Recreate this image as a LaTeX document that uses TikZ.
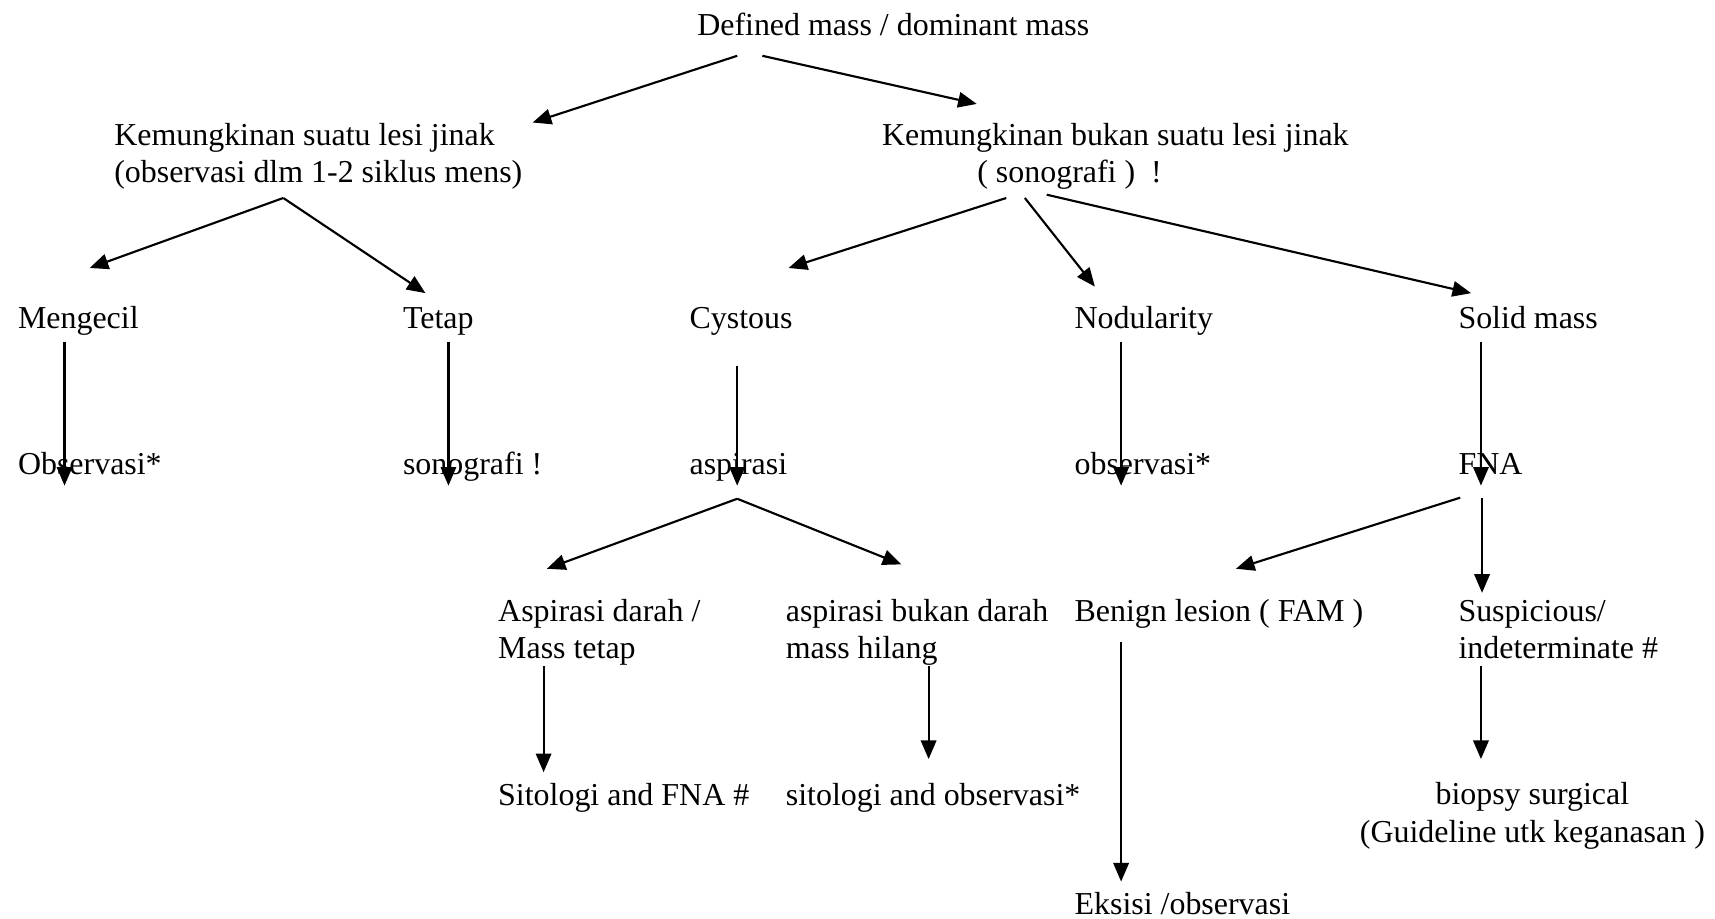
\documentclass[tikz,border=0pt]{standalone}
\usepackage{fontspec}
\setmainfont{Liberation Serif}
\usetikzlibrary{arrows.meta}
\tikzset{
	txt/.style={anchor=base west, inner sep=0pt, align=left, font=\fontsize{12}{14}\selectfont},
	arr/.style={line width=0.8pt, -{Triangle[length=7pt, width=5.8pt]}}
}

\begin{document}
\begin{tikzpicture}[x=0.411pt, y=-0.411pt]
		%%%%% START %%%%%
		\useasboundingbox (0, 0) rectangle (1568, 840);
		
		\node[txt] (defined) at (637, 32) {Defined mass / dominant mass};
		
		% two-line texts sit on their last line
		\node[txt] (jinak) at (104, 167) {Kemungkinan suatu lesi jinak\\(observasi dlm 1-2 siklus mens)};
		\node[txt] (bukan) at (806, 167) {Kemungkinan bukan suatu lesi jinak\\\hspace*{35.8pt}( sonografi ) \ !};
		
		\node[txt] (mengecil) at (16, 300) {Mengecil};
		\node[txt] (tetap) at (368, 300) {Tetap};
		\node[txt] (cystous) at (630, 300) {Cystous};
		\node[txt] (nodular) at (982, 300) {Nodularity};
		\node[txt] (solid) at (1333, 300) {Solid mass};
		
		\node[txt] (obsA) at (16, 434) {Observasi*};
		\node[txt] (sonoA) at (368, 434) {sonografi !};
		\node[txt] (aspirasi) at (630, 434) {aspirasi};
		\node[txt] (obsB) at (982, 434) {observasi*};
		\node[txt] (fna) at (1333, 434) {FNA};
		
		\node[txt] (darah) at (455, 602) {Aspirasi darah /\\Mass tetap};
		\node[txt] (bukandarah) at (718, 602) {aspirasi bukan darah\\mass hilang};
		\node[txt] (benign) at (982, 568) {Benign lesion ( FAM )};
		\node[txt] (suspect) at (1333, 602) {Suspicious/\\indeterminate \#};
		
		\node[txt] (sitoA) at (455, 736) {Sitologi and FNA \#};
		\node[txt] (sitoB) at (718, 736) {sitologi and observasi*};
		\node[txt, anchor=base, align=center] (biopsy) at (1401, 770) {biopsy surgical\\(Guideline utk keganasan )};
		
		\node[txt] (eksisi) at (982, 836) {Eksisi /observasi};
		
		% connectors: name/start/end
		\foreach \n/\xa/\ya/\xb/\yb in {
				defL/674/51/487/112, defR/697/51/893/95,
				jinakL/259/181/82/245, jinakR/259/181/389/268,
				bukanL/920/181/721/245, bukanM/937/181/1001/262, bukanR/957/178/1345/268,
				mengecilD/59/313/59/444, tetapD/410/313/410/444,
				cystousD/674/335/674/444, nodularD/1025/313/1025/444,
				solidD/1354/313/1354/444,
				aspirasiL/674/456/500/520, aspirasiR/674/456/824/516,
				fnaL/1335/455/1130/520, fnaD/1355/455/1355/542,
				darahD/497/609/497/706, bukandarahD/849/609/849/694,
				benignD/1025/587/1025/806, suspectD/1354/609/1354/694}{
			\coordinate (\n-s) at (\xa, \ya);
			\coordinate (\n-e) at (\xb, \yb);
			\draw[arr] (\n-s) -- (\n-e);
		}
		
		%%%%% END %%%%%
\end{tikzpicture}
\end{document}
